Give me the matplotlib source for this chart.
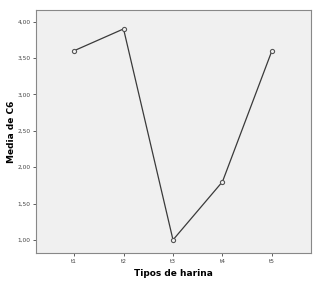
import matplotlib
matplotlib.use("Agg")
import matplotlib.pyplot as plt

categories = ["t1", "t2", "t3", "t4", "t5"]
values = [3.60, 3.90, 1.00, 1.80, 3.60]
yticks = [1.0, 1.5, 2.0, 2.5, 3.0, 3.5, 4.0]
ytick_labels = ["1,00", "1,50", "2,00", "2,50", "3,00", "3,50", "4,00"]

fig = plt.figure(figsize=(3.29, 2.83), dpi=100)
fig.patch.set_facecolor("white")
ax = fig.add_axes([36/329, 30/283, 275/329, 243/283])
ax.set_facecolor("#f0f0f0")

x = list(range(1, len(categories) + 1))
ax.plot(x, values, color="#3a3a3a", lw=0.9, marker="o", ms=3.0,
        mfc="#f0f0f0", mec="#555555", mew=0.8)

ax.set_xlim(0.23, 5.79)
ax.set_ylim(0.82, 4.16)
ax.set_xticks(x)
ax.set_xticklabels(categories)
ax.set_yticks(yticks)
ax.set_yticklabels(ytick_labels)
ax.tick_params(axis="both", labelsize=4.2, colors="#444444", length=2.5, width=0.6, pad=1.5)
for s in ax.spines.values():
    s.set_color("#888888")
    s.set_linewidth(0.8)

ax.set_xlabel("Tipos de harina", fontsize=6.5, fontweight="bold")
ax.set_ylabel("Media de C6", fontsize=6.5, fontweight="bold")
ax.yaxis.set_label_coords(-0.074, 0.5)
ax.xaxis.set_label_coords(0.5, -0.066)

fig.savefig("out.png", dpi=100)
